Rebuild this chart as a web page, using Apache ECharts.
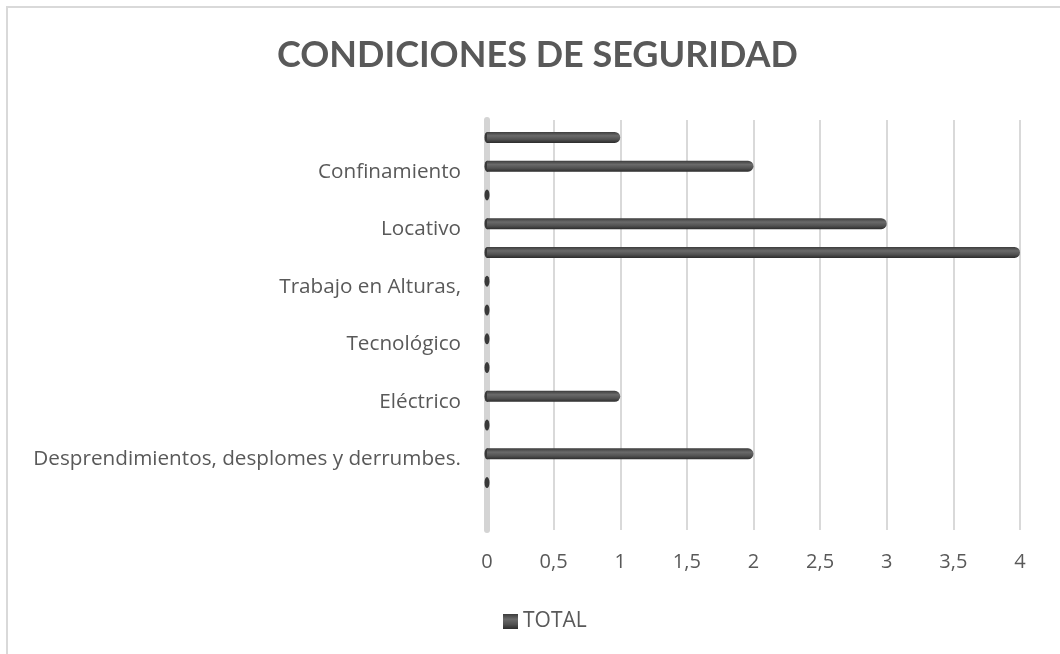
<!DOCTYPE html>
<html>
<head>
<meta charset="utf-8">
<script src="https://cdn.jsdelivr.net/npm/echarts@6/dist/echarts.min.js"></script>
<style>
  html, body { margin: 0; padding: 0; background: #fff; }
  #chart { width: 1060px; height: 654px; }
</style>
</head>
<body>
<div id="chart"></div>
<script>
// categorias de abajo hacia arriba (solo se ven una de cada dos, como en Excel)
const categorias = [
  '', 'Desprendimientos, desplomes y derrumbes.',
  '', 'Eléctrico',
  '', 'Tecnológico',
  '', 'Trabajo en Alturas,',
  '', 'Locativo',
  '', 'Confinamiento',
  ''
]
const totales = [0, 2, 0, 1, 0, 0, 0, 0, 4, 3, 0, 2, 1]
const ticksX = ['0', '0,5', '1', '1,5', '2', '2,5', '3', '3,5', '4']

const chart = echarts.init(document.getElementById('chart'), null, { renderer: 'canvas' })

const fuente = 'Open Sans'
const gris = '#595959'

const option = {
  animation: false,
  title: {
    text: 'CONDICIONES DE SEGURIDAD',
    left: 272,
    top: 32,
    textStyle: { fontFamily: 'Lato', fontWeight: 'bold', fontSize: 36, color: gris }
  },
  legend: {
    data: ['TOTAL'],
    left: 498,
    top: 606,
    itemWidth: 15,
    itemHeight: 15,
    itemGap: 5,
    icon: 'rect',
    textStyle: { fontFamily: fuente, fontSize: 21, color: gris }
  },
  graphic: [{
    type: 'rect',
    shape: { x: 7, y: 7, width: 1100, height: 700 },
    style: { fill: 'none', stroke: '#d9d9d9', lineWidth: 2 },
    silent: true
  }],
  grid: [
    { left: 487, right: 40, top: 123, bottom: 157 },
    { left: 487, right: 40, top: 120, bottom: 124 }
  ],
  xAxis: [
    { gridIndex: 0, type: 'value', min: 0, max: 4, interval: 0.5, show: false },
    {
      gridIndex: 1, type: 'value', min: 0, max: 4, interval: 0.5,
      axisLine: { show: false },
      axisTick: { show: false },
      splitLine: { show: true, lineStyle: { color: '#d9d9d9', width: 2 } },
      axisLabel: {
        margin: 22,
        fontFamily: fuente, fontSize: 20, color: gris,
        formatter: (v) => ticksX[Math.round(v * 2)]
      }
    }
  ],
  yAxis: [
    {
      gridIndex: 0, type: 'category', data: categorias,
      axisLine: { show: false },
      axisTick: { show: false },
      axisLabel: {
        interval: (i) => i % 2 === 1,
        margin: 26,
        verticalAlign: 'top',
        lineHeight: 11,
        fontFamily: fuente, fontSize: 20.7, color: gris
      }
    },
    {
      gridIndex: 1, type: 'value', show: true,
      axisLine: { show: true, lineStyle: { color: '#d4d4d4', width: 6 } },
      axisTick: { show: false },
      axisLabel: { show: false },
      splitLine: { show: false }
    }
  ],
  series: [
    {
      name: 'base',
      type: 'scatter',
      xAxisIndex: 0, yAxisIndex: 0,
      data: totales.map((v, i) => [0, i]),
      symbol: 'circle',
      symbolSize: [5, 11],
      itemStyle: { color: '#111' },
      z: 2,
      silent: true
    },
    {
      name: 'TOTAL',
      type: 'bar',
      xAxisIndex: 0, yAxisIndex: 0,
      data: totales,
      barWidth: 11,
      z: 3,
      itemStyle: {
        borderRadius: [0, 6, 6, 0],
        color: new echarts.graphic.LinearGradient(0, 0, 0, 1, [
          { offset: 0, color: '#3c3c3c' },
          { offset: 0.35, color: '#6a6a6a' },
          { offset: 0.7, color: '#505050' },
          { offset: 1, color: '#2c2c2c' }
        ])
      }
    }
  ]
}

chart.setOption(option)
</script>
</body>
</html>
